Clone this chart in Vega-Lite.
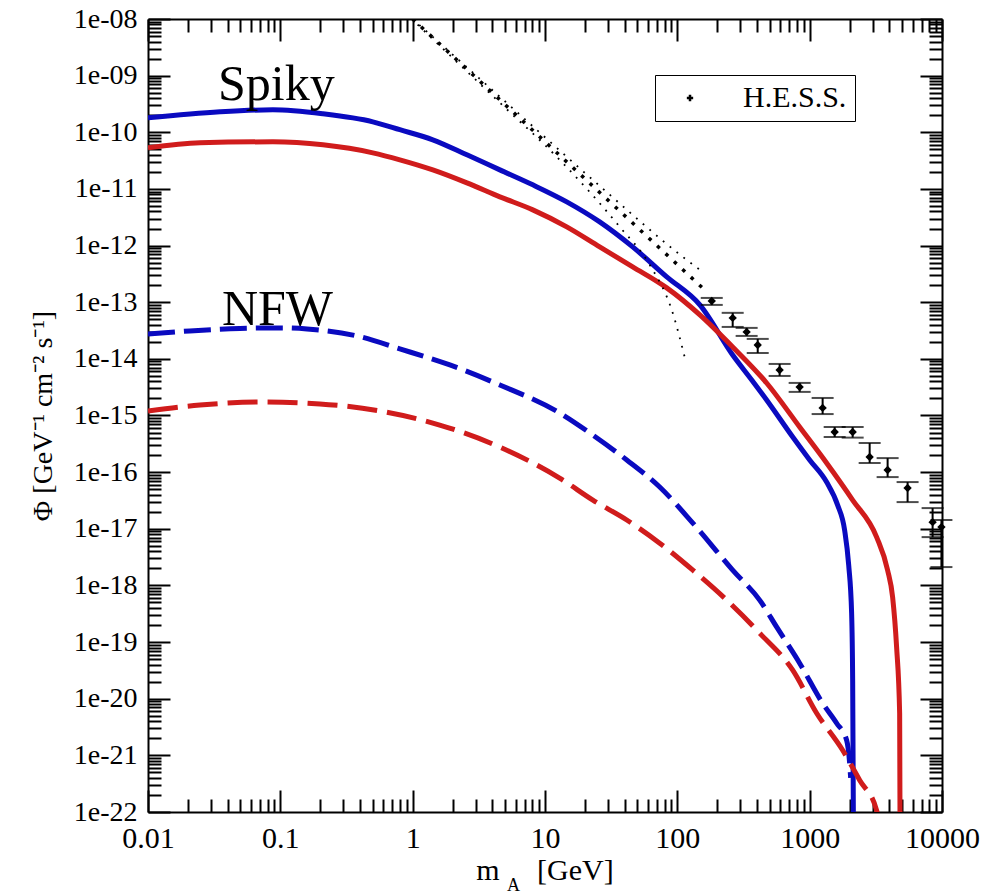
{
  "$schema": "https://vega.github.io/schema/vega-lite/v6.json",
  "width": 794,
  "height": 793,
  "autosize": "none",
  "padding": {"left": 148, "top": 19, "right": 44, "bottom": 82},
  "background": "white",
  "config": {
    "view": {"stroke": null},
    "axis": {"labelColor": "black", "titleColor": "black", "titleFontWeight": "normal", "grid": false, "domainColor": "black", "domainWidth": 2, "tickColor": "black", "tickWidth": 2, "labelOverlap": false, "labelFlush": false, "labelBound": false}
  },
  "title": {
    "text": "m\u00a0\u00a0\u00a0\u00a0\u00a0[GeV]",
    "subtitle": "A\u00a0\u00a0\u00a0\u00a0\u00a0\u00a0\u00a0\u00a0\u00a0\u00a0\u00a0\u00a0\u00a0\u00a0\u200b",
    "orient": "bottom",
    "anchor": "middle",
    "font": "Liberation Serif",
    "fontSize": 30,
    "fontWeight": "normal",
    "color": "black",
    "subtitleFont": "Liberation Serif",
    "subtitleFontSize": 18,
    "subtitleColor": "black",
    "subtitlePadding": -9,
    "offset": -6
  },
  "datasets": {
    "blueSolid": [
      {"m": 0.01, "phi": 1.80e-10}, {"m": 0.035, "phi": 2.30e-10}, {"m": 0.0879, "phi": 2.50e-10},
      {"m": 0.21, "phi": 2.12e-10}, {"m": 0.5, "phi": 1.53e-10}, {"m": 0.8, "phi": 1.11e-10},
      {"m": 1.42, "phi": 7.37e-11}, {"m": 2.57, "phi": 4.00e-11}, {"m": 4.56, "phi": 2.17e-11},
      {"m": 8.09, "phi": 1.18e-11}, {"m": 14.6, "phi": 5.92e-12}, {"m": 25.9, "phi": 2.62e-12},
      {"m": 46.0, "phi": 9.48e-13}, {"m": 83.2, "phi": 2.80e-13}, {"m": 148, "phi": 8.96e-14},
      {"m": 262, "phi": 1.17e-14}, {"m": 365, "phi": 4.24e-15}, {"m": 473, "phi": 1.88e-15},
      {"m": 745, "phi": 4.17e-16}, {"m": 1000, "phi": 1.64e-16}, {"m": 1343, "phi": 6.68e-17},
      {"m": 1627, "phi": 2.62e-17}, {"m": 1837, "phi": 9.48e-18}, {"m": 1972, "phi": 2.29e-18},
      {"m": 2075, "phi": 3.24e-19}, {"m": 2113, "phi": 2.12e-20}, {"m": 2150, "phi": 1e-23}
    ],
    "redSolid": [
      {"m": 0.01, "phi": 5.32e-11}, {"m": 0.0247, "phi": 6.52e-11}, {"m": 0.0879, "phi": 6.79e-11},
      {"m": 0.21, "phi": 6.01e-11}, {"m": 0.5, "phi": 4.34e-11}, {"m": 0.8, "phi": 3.27e-11},
      {"m": 1.42, "phi": 2.17e-11}, {"m": 2.57, "phi": 1.28e-11}, {"m": 4.56, "phi": 7.25e-12},
      {"m": 8.09, "phi": 4.27e-12}, {"m": 14.6, "phi": 2.14e-12}, {"m": 25.9, "phi": 9.48e-13},
      {"m": 46.0, "phi": 4.21e-13}, {"m": 83.2, "phi": 1.79e-13}, {"m": 148, "phi": 5.97e-14},
      {"m": 262, "phi": 1.62e-14}, {"m": 473, "phi": 3.75e-15}, {"m": 840, "phi": 6.27e-16},
      {"m": 1343, "phi": 1.45e-16}, {"m": 2113, "phi": 3.21e-17}, {"m": 3206, "phi": 7.13e-18},
      {"m": 3882, "phi": 1.86e-18}, {"m": 4236, "phi": 6.21e-19}, {"m": 4539, "phi": 8.13e-20},
      {"m": 4786, "phi": 5.55e-21}, {"m": 4830, "phi": 1e-23}
    ],
    "blueDashed": [
      {"m": 0.01, "phi": 2.75e-14}, {"m": 0.0207, "phi": 3.11e-14}, {"m": 0.0495, "phi": 3.44e-14},
      {"m": 0.1, "phi": 3.52e-14}, {"m": 0.159, "phi": 3.37e-14}, {"m": 0.38, "phi": 2.54e-14},
      {"m": 0.8, "phi": 1.50e-14},
      {"m": 1.91, "phi": 7.80e-15}, {"m": 4.56, "phi": 3.46e-15}, {"m": 12.9, "phi": 1.11e-15},
      {"m": 23.0, "phi": 4.52e-16}, {"m": 41.5, "phi": 1.64e-16}, {"m": 73.6, "phi": 5.46e-17},
      {"m": 131, "phi": 1.26e-17}, {"m": 262, "phi": 1.86e-18}, {"m": 419, "phi": 5.50e-19},
      {"m": 564, "phi": 1.83e-19}, {"m": 840, "phi": 4.24e-20}, {"m": 1253, "phi": 8.32e-21},
      {"m": 1600, "phi": 3.69e-21}, {"m": 1903, "phi": 1.85e-21}, {"m": 2005, "phi": 7.25e-22},
      {"m": 2040, "phi": 4e-22}
    ],
    "redDashed": [
      {"m": 0.01, "phi": 1.20e-15}, {"m": 0.0247, "phi": 1.53e-15}, {"m": 0.0701, "phi": 1.73e-15},
      {"m": 0.199, "phi": 1.60e-15}, {"m": 0.565, "phi": 1.20e-15}, {"m": 1.60, "phi": 6.79e-16},
      {"m": 4.56, "phi": 2.77e-16}, {"m": 12.9, "phi": 7.87e-17}, {"m": 23.0, "phi": 3.21e-17},
      {"m": 41.5, "phi": 1.43e-17}, {"m": 73.6, "phi": 5.58e-18}, {"m": 131, "phi": 1.86e-18},
      {"m": 236, "phi": 5.50e-19}, {"m": 419, "phi": 1.44e-19}, {"m": 745, "phi": 3.19e-20},
      {"m": 1130, "phi": 5.55e-21}, {"m": 1776, "phi": 1.23e-21}, {"m": 2388, "phi": 3.63e-22},
      {"m": 3206, "phi": 1.07e-22}, {"m": 3400, "phi": 5e-23}
    ],
    "dotCenter": [
      {"m": 1.0, "phi": 1e-8}, {"m": 4.56, "phi": 3.75e-10}, {"m": 167, "phi": 1.52e-13}
    ],
    "dotLower": [
      {"m": 1.09, "phi": 7.93e-9}, {"m": 4.56, "phi": 3.32e-10}, {"m": 12.9, "phi": 3.27e-11},
      {"m": 36.7, "phi": 2.14e-12}, {"m": 61.9, "phi": 4.56e-13}, {"m": 92.3, "phi": 6.47e-14},
      {"m": 114, "phi": 1.04e-14}
    ],
    "dotUpper": [
      {"m": 1.0, "phi": 1e-8}, {"m": 4.56, "phi": 4.24e-10}, {"m": 25.9, "phi": 1.13e-11},
      {"m": 110, "phi": 6.31e-13}, {"m": 148, "phi": 3.72e-13}
    ],
    "hess": [
      {"m": 182, "phi": 1.05e-13, "lo": 8.96e-14, "hi": 1.19e-13},
      {"m": 262, "phi": 5.28e-14, "lo": 3.66e-14, "hi": 6.49e-14},
      {"m": 334, "phi": 2.99e-14, "lo": 2.54e-14, "hi": 3.52e-14},
      {"m": 405, "phi": 1.76e-14, "lo": 1.27e-14, "hi": 2.25e-14},
      {"m": 593, "phi": 6.37e-15, "lo": 4.99e-15, "hi": 8.13e-15},
      {"m": 840, "phi": 3.19e-15, "lo": 2.61e-15, "hi": 3.76e-15},
      {"m": 1253, "phi": 1.36e-15, "lo": 1.06e-15, "hi": 2.04e-15},
      {"m": 1545, "phi": 5.12e-16, "lo": 4.17e-16, "hi": 6.27e-16},
      {"m": 2113, "phi": 5.12e-16, "lo": 4.07e-16, "hi": 6.27e-16},
      {"m": 2840, "phi": 1.85e-16, "lo": 1.45e-16, "hi": 3.27e-16},
      {"m": 3882, "phi": 1.09e-16, "lo": 8.18e-17, "hi": 1.77e-16},
      {"m": 5495, "phi": 5.24e-17, "lo": 2.96e-17, "hi": 6.68e-17},
      {"m": 8492, "phi": 1.31e-17, "lo": 7.13e-18, "hi": 2.32e-17},
      {"m": 9900, "phi": 1.07e-17, "lo": 2.11e-18, "hi": 1.43e-17}
    ],
    "labels": [
      {"m": 0.0338, "phi": 3.75e-10, "label": "Spiky"},
      {"m": 0.0362, "phi": 3.98e-14, "label": "NFW"}
    ]
  },
  "layer": [
    {
      "data": {"name": "blueSolid"},
      "mark": {"type": "line", "color": "#0a0ac0", "strokeWidth": 5, "interpolate": "monotone", "clip": true},
      "encoding": {
        "x": {"field": "m", "type": "quantitative",
          "scale": {"type": "log", "domain": [0.01, 10000], "nice": false},
          "axis": {
            "orient": "bottom", "title": null, "format": "~g",
            "values": [0.01,0.02,0.03,0.04,0.05,0.06,0.07,0.08,0.09,0.1,0.2,0.3,0.4,0.5,0.6,0.7,0.8,0.9,1,2,3,4,5,6,7,8,9,10,20,30,40,50,60,70,80,90,100,200,300,400,500,600,700,800,900,1000,2000,3000,4000,5000,6000,7000,8000,9000,10000],
            "labelExpr": "indexof([0.01,0.1,1,10,100,1000,10000], datum.value) >= 0 ? datum.label : ''",
            "tickSize": {"condition": {"test": "indexof([0.01,0.1,1,10,100,1000,10000], datum.value) >= 0", "value": -22}, "value": -13},
            "labelFont": "Liberation Serif", "labelFontSize": 30, "labelPadding": 33
          }
        },
        "y": {"field": "phi", "type": "quantitative",
          "scale": {"type": "log", "domain": [1e-22, 1e-8], "nice": false},
          "axis": {
            "orient": "left",
            "title": "\u03a6  [GeV\u207b\u00b9 cm\u207b\u00b2 s\u207b\u00b9]",
            "titleFont": "Liberation Serif", "titleFontSize": 28, "titlePadding": 16,
            "values": [1e-22,2e-22,3e-22,4e-22,5e-22,6e-22,7e-22,8e-22,9e-22,1e-21,2e-21,3e-21,4e-21,5e-21,6e-21,7e-21,8e-21,9e-21,1e-20,2e-20,3e-20,4e-20,5e-20,6e-20,7e-20,8e-20,9e-20,1e-19,2e-19,3e-19,4e-19,5e-19,6e-19,7e-19,8e-19,9e-19,1e-18,2e-18,3e-18,4e-18,5e-18,6e-18,7e-18,8e-18,9e-18,1e-17,2e-17,3e-17,4e-17,5e-17,6e-17,7e-17,8e-17,9e-17,1e-16,2e-16,3e-16,4e-16,5e-16,6e-16,7e-16,8e-16,9e-16,1e-15,2e-15,3e-15,4e-15,5e-15,6e-15,7e-15,8e-15,9e-15,1e-14,2e-14,3e-14,4e-14,5e-14,6e-14,7e-14,8e-14,9e-14,1e-13,2e-13,3e-13,4e-13,5e-13,6e-13,7e-13,8e-13,9e-13,1e-12,2e-12,3e-12,4e-12,5e-12,6e-12,7e-12,8e-12,9e-12,1e-11,2e-11,3e-11,4e-11,5e-11,6e-11,7e-11,8e-11,9e-11,1e-10,2e-10,3e-10,4e-10,5e-10,6e-10,7e-10,8e-10,9e-10,1e-9,2e-9,3e-9,4e-9,5e-9,6e-9,7e-9,8e-9,9e-9,1e-8],
            "labelExpr": "abs(log(datum.value)/LN10 - round(log(datum.value)/LN10)) < 0.001 ? ('1e-' + (round(-log(datum.value)/LN10) < 10 ? '0' : '') + round(-log(datum.value)/LN10)) : ''",
            "tickSize": {"condition": {"test": "abs(log(datum.value)/LN10 - round(log(datum.value)/LN10)) < 0.001", "value": -22}, "value": -13},
            "labelFont": "Liberation Serif", "labelFontSize": 28, "labelPadding": 33
          }
        }
      }
    },
    {
      "data": {"name": "redSolid"},
      "mark": {"type": "line", "color": "#d01c1c", "strokeWidth": 5, "interpolate": "monotone", "clip": true},
      "encoding": {
        "x": {"field": "m", "type": "quantitative",
          "scale": {"type": "log", "domain": [0.01, 10000], "nice": false},
          "axis": {
            "orient": "top", "title": null, "labels": false,
            "values": [0.01,0.02,0.03,0.04,0.05,0.06,0.07,0.08,0.09,0.1,0.2,0.3,0.4,0.5,0.6,0.7,0.8,0.9,1,2,3,4,5,6,7,8,9,10,20,30,40,50,60,70,80,90,100,200,300,400,500,600,700,800,900,1000,2000,3000,4000,5000,6000,7000,8000,9000,10000],
            "tickSize": {"condition": {"test": "indexof([0.01,0.1,1,10,100,1000,10000], datum.value) >= 0", "value": -22}, "value": -13}
          }
        },
        "y": {"field": "phi", "type": "quantitative",
          "scale": {"type": "log", "domain": [1e-22, 1e-8], "nice": false},
          "axis": {
            "orient": "right", "title": null, "labels": false,
            "values": [1e-22,2e-22,3e-22,4e-22,5e-22,6e-22,7e-22,8e-22,9e-22,1e-21,2e-21,3e-21,4e-21,5e-21,6e-21,7e-21,8e-21,9e-21,1e-20,2e-20,3e-20,4e-20,5e-20,6e-20,7e-20,8e-20,9e-20,1e-19,2e-19,3e-19,4e-19,5e-19,6e-19,7e-19,8e-19,9e-19,1e-18,2e-18,3e-18,4e-18,5e-18,6e-18,7e-18,8e-18,9e-18,1e-17,2e-17,3e-17,4e-17,5e-17,6e-17,7e-17,8e-17,9e-17,1e-16,2e-16,3e-16,4e-16,5e-16,6e-16,7e-16,8e-16,9e-16,1e-15,2e-15,3e-15,4e-15,5e-15,6e-15,7e-15,8e-15,9e-15,1e-14,2e-14,3e-14,4e-14,5e-14,6e-14,7e-14,8e-14,9e-14,1e-13,2e-13,3e-13,4e-13,5e-13,6e-13,7e-13,8e-13,9e-13,1e-12,2e-12,3e-12,4e-12,5e-12,6e-12,7e-12,8e-12,9e-12,1e-11,2e-11,3e-11,4e-11,5e-11,6e-11,7e-11,8e-11,9e-11,1e-10,2e-10,3e-10,4e-10,5e-10,6e-10,7e-10,8e-10,9e-10,1e-9,2e-9,3e-9,4e-9,5e-9,6e-9,7e-9,8e-9,9e-9,1e-8],
            "tickSize": {"condition": {"test": "abs(log(datum.value)/LN10 - round(log(datum.value)/LN10)) < 0.001", "value": -22}, "value": -13}
          }
        }
      }
    },
    {
      "data": {"name": "blueDashed"},
      "mark": {"type": "line", "color": "#0a0ac0", "strokeWidth": 5, "strokeDash": [27, 9], "interpolate": "monotone", "clip": true},
      "encoding": {
        "x": {"field": "m", "type": "quantitative", "scale": {"type": "log", "domain": [0.01, 10000], "nice": false}, "axis": null},
        "y": {"field": "phi", "type": "quantitative", "scale": {"type": "log", "domain": [1e-22, 1e-8], "nice": false}, "axis": null}
      }
    },
    {
      "data": {"name": "redDashed"},
      "mark": {"type": "line", "color": "#d01c1c", "strokeWidth": 5, "strokeDash": [30, 10], "interpolate": "monotone", "clip": true},
      "encoding": {
        "x": {"field": "m", "type": "quantitative", "scale": {"type": "log", "domain": [0.01, 10000], "nice": false}, "axis": null},
        "y": {"field": "phi", "type": "quantitative", "scale": {"type": "log", "domain": [1e-22, 1e-8], "nice": false}, "axis": null}
      }
    },
    {
      "data": {"name": "dotCenter"},
      "mark": {"type": "line", "color": "black", "strokeWidth": 3.5, "strokeDash": [3.5, 8], "clip": true},
      "encoding": {
        "x": {"field": "m", "type": "quantitative", "scale": {"type": "log", "domain": [0.01, 10000], "nice": false}, "axis": null},
        "y": {"field": "phi", "type": "quantitative", "scale": {"type": "log", "domain": [1e-22, 1e-8], "nice": false}, "axis": null}
      }
    },
    {
      "data": {"name": "dotLower"},
      "mark": {"type": "line", "color": "black", "strokeWidth": 1.8, "strokeDash": [1.8, 7], "interpolate": "monotone", "clip": true},
      "encoding": {
        "x": {"field": "m", "type": "quantitative", "scale": {"type": "log", "domain": [0.01, 10000], "nice": false}, "axis": null},
        "y": {"field": "phi", "type": "quantitative", "scale": {"type": "log", "domain": [1e-22, 1e-8], "nice": false}, "axis": null}
      }
    },
    {
      "data": {"name": "dotUpper"},
      "mark": {"type": "line", "color": "black", "strokeWidth": 1.8, "strokeDash": [1.8, 7], "interpolate": "monotone", "clip": true},
      "encoding": {
        "x": {"field": "m", "type": "quantitative", "scale": {"type": "log", "domain": [0.01, 10000], "nice": false}, "axis": null},
        "y": {"field": "phi", "type": "quantitative", "scale": {"type": "log", "domain": [1e-22, 1e-8], "nice": false}, "axis": null}
      }
    },
    {
      "data": {"name": "hess"},
      "mark": {"type": "errorbar", "color": "black", "thickness": 2, "ticks": {"size": 22, "thickness": 2, "color": "black"}},
      "encoding": {
        "x": {"field": "m", "type": "quantitative", "scale": {"type": "log", "domain": [0.01, 10000], "nice": false}, "axis": null},
        "y": {"field": "lo", "type": "quantitative", "scale": {"type": "log", "domain": [1e-22, 1e-8], "nice": false}, "axis": null},
        "y2": {"field": "hi"}
      }
    },
    {
      "data": {"name": "hess"},
      "mark": {"type": "point", "shape": "diamond", "filled": true, "size": 70, "opacity": 1},
      "encoding": {
        "x": {"field": "m", "type": "quantitative", "scale": {"type": "log", "domain": [0.01, 10000], "nice": false}, "axis": null},
        "y": {"field": "phi", "type": "quantitative", "scale": {"type": "log", "domain": [1e-22, 1e-8], "nice": false}, "axis": null},
        "color": {"datum": "H.E.S.S.", "type": "nominal", "scale": {"range": ["black"]},
          "legend": {"title": null, "orient": "none", "legendX": 507, "legendY": 56,
            "symbolType": "cross", "symbolSize": 40, "symbolFillColor": "black", "symbolStrokeWidth": 0,
            "labelFont": "Liberation Serif", "labelFontSize": 30, "labelColor": "black",
            "padding": 8, "strokeColor": "black", "fillColor": "white", "symbolOffset": 12, "labelOffset": 38}
        }
      }
    },
    {
      "data": {"name": "labels"},
      "mark": {"type": "text", "align": "left", "baseline": "alphabetic", "font": "Liberation Serif", "fontSize": 50, "color": "black"},
      "encoding": {
        "x": {"field": "m", "type": "quantitative", "scale": {"type": "log", "domain": [0.01, 10000], "nice": false}, "axis": null},
        "y": {"field": "phi", "type": "quantitative", "scale": {"type": "log", "domain": [1e-22, 1e-8], "nice": false}, "axis": null},
        "text": {"field": "label"}
      }
    }
  ],
  "resolve": {"axis": {"x": "independent", "y": "independent"}}
}
